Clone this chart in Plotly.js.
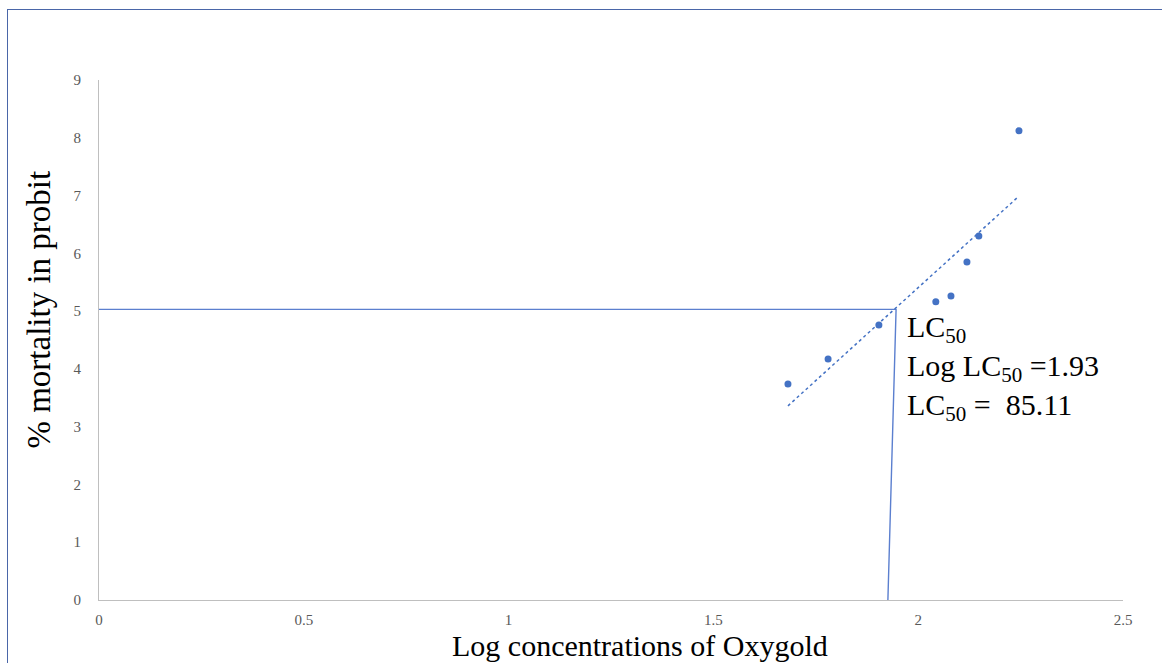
<!DOCTYPE html>
<html>
<head>
<meta charset="utf-8">
<script src="https://cdn.plot.ly/plotly-3.0.1.min.js"></script>
<style>
html,body{margin:0;padding:0;background:#fff;overflow:hidden;}
#frame{position:absolute;left:7px;top:9px;width:1200px;height:700px;border-left:1px solid #4a66a8;border-top:1px solid #4a66a8;pointer-events:none;z-index:5;}
#chart{position:absolute;left:0;top:0;width:1162px;height:663px;}
</style>
</head>
<body>
<div id="chart"></div>
<div id="frame"></div>
<script>
// Observed data (log concentration vs probit mortality)
const logConc = [1.682, 1.780, 1.904, 2.043, 2.080, 2.119, 2.148, 2.246];
const probit  = [3.74, 4.17, 4.76, 5.16, 5.26, 5.85, 6.30, 8.12];

// Linear trendline endpoints as drawn
const trendX = [1.682, 2.246];
const trendY = [3.36, 6.99];

// LC50 guide lines
const guideX = [0, 1.946, 1.926];
const guideY = [5.03, 5.03, 0];

// Annotation text
const lcText = "LC<sub>50</sub><br>Log LC<sub>50</sub> =1.93<br>LC<sub>50</sub> =  85.11";

const xTicks = [0, 0.5, 1, 1.5, 2, 2.5];
const xTickText = ["0", "0.5", "1", "1.5", "2", "2.5"];
const yTicks = [0,1,2,3,4,5,6,7,8,9];

const xTitle = 'Log concentrations of Oxygold';
const yTitle = '% mortality in probit';

const serif = "'Liberation Serif', 'Times New Roman', serif";

const traces = [
  {x: guideX, y: guideY, mode: 'lines', line: {color: '#5b7fcf', width: 1.4}, hoverinfo: 'skip', showlegend: false},
  {x: trendX, y: trendY, mode: 'lines', line: {color: '#4472C4', width: 1.5, dash: 'dot'}, hoverinfo: 'skip', showlegend: false},
  {x: logConc, y: probit, mode: 'markers', marker: {color: '#4472C4', size: 7}, showlegend: false}
];

const annotations = [
  {x: 1.968, y: 4.02, xref: 'x', yref: 'y', text: lcText, showarrow: false,
   xanchor: 'left', yanchor: 'middle', align: 'left',
   font: {family: serif, size: 30, color: '#000'}},
  {x: (640 - 99) / 1024, y: (600 - 645) / 520, xref: 'paper', yref: 'paper', text: xTitle, showarrow: false,
   xanchor: 'center', yanchor: 'middle',
   font: {family: serif, size: 30, color: '#000'}},
  {x: -0.059, y: (600 - 310) / 520, xref: 'paper', yref: 'paper', text: yTitle, showarrow: false,
   textangle: -90, xanchor: 'center', yanchor: 'middle',
   font: {family: serif, size: 33, color: '#000'}}
];

const layout = {
  width: 1162, height: 663,
  margin: {l: 99, r: 39, t: 80, b: 63},
  paper_bgcolor: '#fff', plot_bgcolor: '#fff',
  showlegend: false,
  xaxis: {
    range: [0, 2.5], tickvals: xTicks, ticktext: xTickText,
    showgrid: false, zeroline: false, showline: true, linecolor: '#bfbfbf', linewidth: 1,
    ticks: '', ticklabelstandoff: 6,
    tickfont: {family: serif, size: 15, color: '#595959'},
    automargin: false
  },
  yaxis: {
    range: [0, 9], tickvals: yTicks,
    showgrid: false, zeroline: false, showline: true, linecolor: '#bfbfbf', linewidth: 1,
    ticks: '', ticklabelstandoff: 14,
    tickfont: {family: serif, size: 15, color: '#595959'},
    automargin: false
  },
  annotations: annotations
};

Plotly.newPlot('chart', traces, layout, {displayModeBar: false, staticPlot: true});
</script>
</body>
</html>
